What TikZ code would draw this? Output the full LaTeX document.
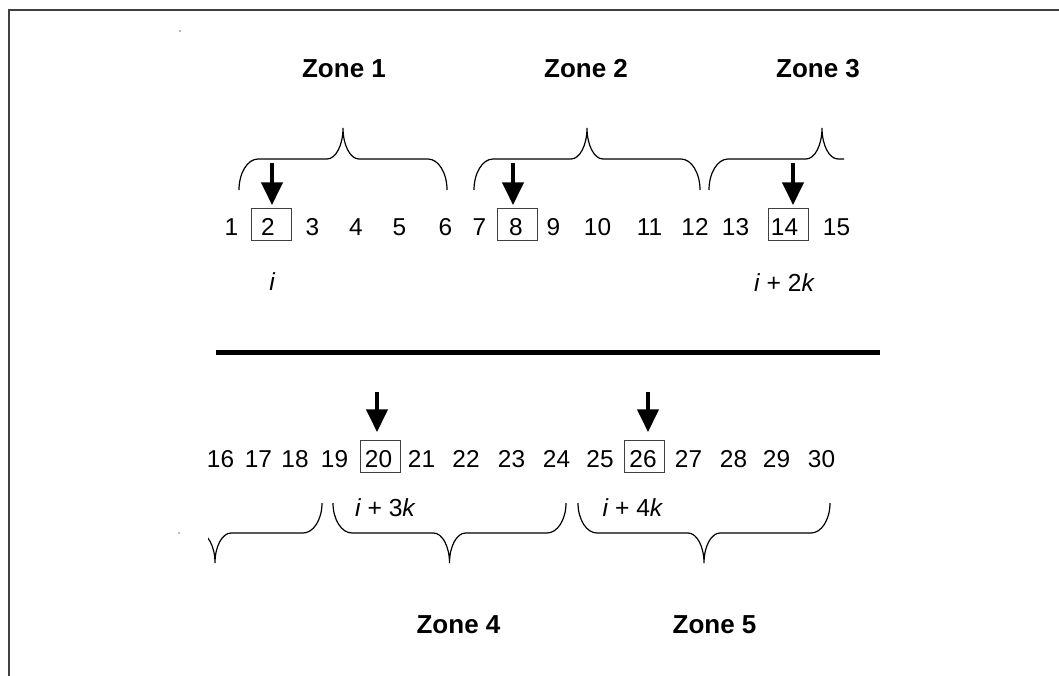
\documentclass[tikz,border=0pt]{standalone}
\usepackage{fontspec}
\setmainfont{Liberation Sans}
\usetikzlibrary{arrows.meta}
\newcommand\zbrc[5]{%
  \pgfmathsetmacro\zbm{(#1+#2)/2}%
  \pgfmathsetmacro\zea{#3+(#4-#3)*0.552}%
  \pgfmathsetmacro\zta{#5+(#4-#5)*0.552}%
  \draw[brc] (#1,#3) .. controls (#1,\zea) and ({#1+19*0.448},#4) .. ({#1+19},#4) -- ({\zbm-16},#4)
    .. controls ({\zbm-16*0.448},#4) and (\zbm,\zta) .. (\zbm,#5)
    .. controls (\zbm,\zta) and ({\zbm+16*0.448},#4) .. ({\zbm+16},#4)
    -- ({#2-19},#4) .. controls ({#2-19*0.448},#4) and (#2,\zea) .. (#2,#3);}
\begin{document}
\begin{tikzpicture}[x=0.75pt,y=-0.75pt,
  num/.style={inner sep=0pt, anchor=base, font=\fontsize{18.3}{20}\selectfont},
  zonelbl/.style={inner sep=0pt, anchor=base, font=\fontsize{19.5}{22}\selectfont\bfseries},
  var/.style={inner sep=0pt, anchor=base, font=\fontsize{18.5}{20}\selectfont},
  cell/.style={draw=black!75, line width=0.75pt, minimum width=30pt, minimum height=24.4pt, inner sep=0pt},
  ptr/.style={line width=2.3pt, -{Triangle[length=17pt,width=16pt]}},
  brc/.style={line width=0.9pt},
  frame/.style={draw=black!75, line width=1.2pt}]
\useasboundingbox (0,0) rectangle (1059,675);
\fill[white] (0,0) rectangle (1059,675);
% frame
\draw[frame] (9,676) -- (9,10) -- (1060,10);
\fill[black!55] (180,31) circle[radius=0.6pt];
\fill[black!55] (179,533) circle[radius=0.6pt];
% zone labels
\node[zonelbl] (z1) at (344,77.5) {Zone 1};
\node[zonelbl] (z2) at (586,77.5) {Zone 2};
\node[zonelbl] (z3) at (818,77.5) {Zone 3};
\node[zonelbl] (z4) at (458.5,633) {Zone 4};
\node[zonelbl] (z5) at (714.5,633) {Zone 5};
% top braces
\zbrc{239}{447}{190}{159}{128}
\zbrc{474}{700}{190}{159}{128}
\begin{scope}
  \clip (700,100) rectangle (844,200);
  \zbrc{709}{935}{190}{159}{128}
\end{scope}
% bottom braces
\begin{scope}
  \clip (208,495) rectangle (330,570);
  \zbrc{108}{322}{503}{533}{563}
\end{scope}
\zbrc{333}{566}{503}{533}{563}
\zbrc{578}{830}{503}{533}{563}
% boxes
\node[cell] (b2) at (271,224.7) {};
\node[cell] (b8) at (517.5,224.7) {};
\node[cell] (b14) at (788,224.7) {};
\node[cell] (b20) at (380,456.5) {};
\node[cell] (b26) at (644,456.5) {};
% top row numbers
\node[num] (n1) at (231.5,235) {1};
\node[num] (n2) at (268,235) {2};
\node[num] (n3) at (312.5,235) {3};
\node[num] (n4) at (356,235) {4};
\node[num] (n5) at (399.5,235) {5};
\node[num] (n6) at (445.5,235) {6};
\node[num] (n7) at (479.5,235) {7};
\node[num] (n8) at (516,235) {8};
\node[num] (n9) at (553.5,235) {9};
\node[num] (n10) at (597.5,235) {10};
\node[num] (n11) at (649.5,235) {11};
\node[num] (n12) at (695,235) {12};
\node[num] (n13) at (735.5,235) {13};
\node[num] (n14) at (784.5,235) {14};
\node[num] (n15) at (836.5,235) {15};
% bottom row numbers
\node[num] (n16) at (220.5,467) {16};
\node[num] (n17) at (258.5,467) {17};
\node[num] (n18) at (295,467) {18};
\node[num] (n19) at (334.5,467) {19};
\node[num] (n20) at (378.5,467) {20};
\node[num] (n21) at (421.5,467) {21};
\node[num] (n22) at (466,467) {22};
\node[num] (n23) at (511.5,467) {23};
\node[num] (n24) at (556.5,467) {24};
\node[num] (n25) at (600,467) {25};
\node[num] (n26) at (643,467) {26};
\node[num] (n27) at (688.5,467) {27};
\node[num] (n28) at (733.5,467) {28};
\node[num] (n29) at (776.5,467) {29};
\node[num] (n30) at (821.5,467) {30};
% index labels
\node[var] (v1) at (272,290) {\itshape i};
\node[var] (v2) at (784,291.5) {{\itshape i} + 2{\itshape k}};
\node[var] (v3) at (385,516) {{\itshape i} + 3{\itshape k}};
\node[var] (v4) at (632.5,516) {{\itshape i} + 4{\itshape k}};
% pointer arrows
\coordinate (a1s) at (272,163); \coordinate (a1e) at (272,205);
\coordinate (a2s) at (513,163); \coordinate (a2e) at (513,205);
\coordinate (a3s) at (793,163); \coordinate (a3e) at (793,205);
\coordinate (a4s) at (377,392); \coordinate (a4e) at (377,432);
\coordinate (a5s) at (648,392); \coordinate (a5e) at (648,432);
\draw[ptr] (a1s) -- (a1e);
\draw[ptr] (a2s) -- (a2e);
\draw[ptr] (a3s) -- (a3e);
\draw[ptr] (a4s) -- (a4e);
\draw[ptr] (a5s) -- (a5e);
% separator
\coordinate (sepl) at (216,352.5); \coordinate (sepr) at (880,352.5);
\draw[line width=3.75pt] (sepl) -- (sepr);
\end{tikzpicture}
\end{document}
